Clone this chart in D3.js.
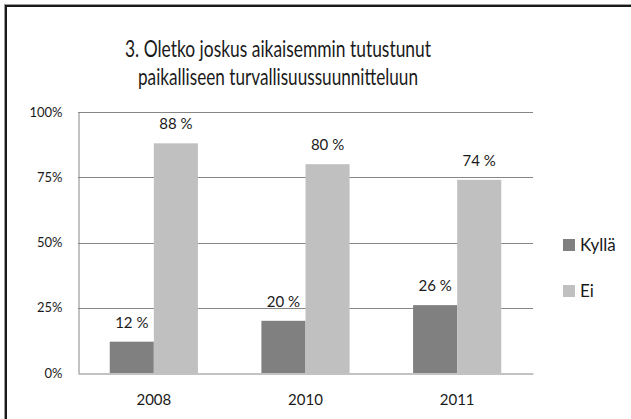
<!DOCTYPE html>
<html>
<head>
<meta charset="utf-8">
<script src="https://cdn.jsdelivr.net/npm/d3@7"></script>
<style>
  html, body { margin: 0; padding: 0; background: #fff; }
  svg { display: block; font-family: Lato, "Open Sans", sans-serif; }
</style>
</head>
<body>
<div id="chart-container"></div>
<script>
// chart data
const titleLines = ["3. Oletko joskus aikaisemmin tutustunut", "paikalliseen turvallisuussuunnitteluun"];
const years = ["2008", "2010", "2011"];
const seriesNames = ["Kyllä", "Ei"];
const kylla = [12, 20, 26];
const ei = [88, 80, 74];
const yTicks = [0, 25, 50, 75, 100];
const colors = ["#808080", "#c0c0c0"];

const width = 631;
const height = 419;
const margin = { top: 112, right: 98, bottom: 46, left: 78 };

const svg = d3.select("#chart-container")
    .append("svg")
    .attr("width", width)
    .attr("height", height);

// outer frame (only top and left visible)
svg.append("line").attr("x1", 4).attr("x2", width).attr("y1", 4.5).attr("y2", 4.5)
    .attr("stroke", "#9a9a9a").attr("stroke-width", 1);
svg.append("line").attr("x1", 4.5).attr("x2", 4.5).attr("y1", 4).attr("y2", height)
    .attr("stroke", "#9a9a9a").attr("stroke-width", 1);
svg.append("line").attr("x1", 5).attr("x2", width).attr("y1", 6).attr("y2", 6)
    .attr("stroke", "#1a1a1a").attr("stroke-width", 2);
svg.append("line").attr("x1", 6).attr("x2", 6).attr("y1", 5).attr("y2", height)
    .attr("stroke", "#1a1a1a").attr("stroke-width", 2);

// title (squeezed to the width of the original narrow font)
const titleWidths = [306, 280];
svg.append("g")
    .selectAll("text")
    .data(titleLines)
    .enter()
    .append("text")
    .attr("x", 278)
    .attr("y", (d, i) => 57 + i * 28)
    .attr("text-anchor", "middle")
    .attr("font-size", 24)
    .attr("fill", "#1a1a1a")
    .attr("textLength", (d, i) => titleWidths[i])
    .attr("lengthAdjust", "spacingAndGlyphs")
    .text(d => d);

// scales
const x0 = d3.scaleBand()
    .domain(years)
    .range([margin.left, width - margin.right])
    .padding(0);

const x1 = d3.scaleBand()
    .domain(seriesNames)
    .range([0, x0.bandwidth()])
    .paddingInner(0)
    .paddingOuter(0.72);

const y = d3.scaleLinear()
    .domain([0, 100])
    .range([height - margin.bottom, margin.top]);

// gridlines
svg.append("g")
    .selectAll("line")
    .data(yTicks.filter(d => d > 0))
    .enter()
    .append("line")
    .attr("x1", margin.left)
    .attr("x2", width - margin.right)
    .attr("y1", d => Math.round(y(d)) + 0.5)
    .attr("y2", d => Math.round(y(d)) + 0.5)
    .attr("stroke", "#868686");

// y axis
const yAxis = svg.append("g")
    .attr("transform", `translate(${margin.left + 0.5}, 0)`)
    .call(d3.axisLeft(y).tickValues(yTicks).tickSize(0).tickPadding(16).tickFormat(d => d + "%"));
yAxis.select(".domain").attr("stroke", "#868686");
yAxis.selectAll("text").attr("font-size", 13).attr("fill", "#1a1a1a")
    .attr("font-family", "Lato, sans-serif");

// bars
const rows = years.map((yr, i) => ({ year: yr, values: [kylla[i], ei[i]] }));

const groups = svg.append("g")
    .selectAll("g")
    .data(rows)
    .enter()
    .append("g")
    .attr("transform", d => `translate(${x0(d.year)}, 0)`);

groups.selectAll("rect")
    .data(d => d.values.map((v, j) => ({ name: seriesNames[j], value: v, idx: j })))
    .enter()
    .append("rect")
    .attr("x", d => x1(d.name))
    .attr("y", d => y(d.value))
    .attr("width", x1.bandwidth())
    .attr("height", d => y(0) - y(d.value))
    .attr("fill", d => colors[d.idx]);

groups.selectAll("text")
    .data(d => d.values.map((v, j) => ({ name: seriesNames[j], value: v })))
    .enter()
    .append("text")
    .attr("x", d => x1(d.name) + x1.bandwidth() / 2)
    .attr("y", d => y(d.value) - 14)
    .attr("text-anchor", "middle")
    .attr("font-size", 15)
    .attr("fill", "#1a1a1a")
    .text(d => d.value + " %");

// x axis
const xAxis = svg.append("g")
    .attr("transform", `translate(0, ${y(0) + 0.5})`)
    .call(d3.axisBottom(x0).tickSize(0).tickPadding(21));
xAxis.select(".domain").attr("stroke", "#868686");
xAxis.selectAll("text").attr("font-size", 15).attr("fill", "#1a1a1a")
    .attr("font-family", "Lato, sans-serif");

// legend
const legend = svg.append("g")
    .selectAll("g")
    .data(seriesNames)
    .enter()
    .append("g")
    .attr("transform", (d, i) => `translate(563, ${239 + i * 46})`);

legend.append("rect")
    .attr("width", 12)
    .attr("height", 12)
    .attr("fill", (d, i) => colors[i]);

legend.append("text")
    .attr("x", 17)
    .attr("y", 12)
    .attr("font-size", 17)
    .attr("fill", "#1a1a1a")
    .text(d => d);
</script>
</body>
</html>
